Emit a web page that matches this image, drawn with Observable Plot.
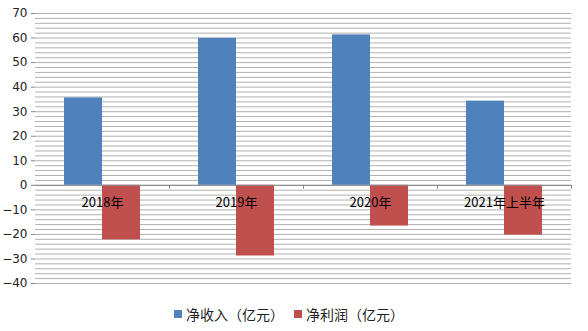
<!DOCTYPE html>
<html>
<head>
<meta charset="utf-8">
<script src="https://cdn.jsdelivr.net/npm/d3@7"></script>
<script src="https://cdn.jsdelivr.net/npm/@observablehq/plot@0.6"></script>
<style>
  html, body { margin: 0; padding: 0; background: #fff; }
  #chart { width: 588px; }
  .legend { display: flex; justify-content: center; align-items: center; height: 35px; font-family: "Noto Sans CJK SC", sans-serif; font-size: 14px; color: #222; padding-right: 10px; box-sizing: border-box; }
  .legend .item { display: flex; align-items: center; margin: 0 5px; }
  .legend .sw { width: 8px; height: 8px; margin-right: 4px; }
</style>
</head>
<body>
<div id="chart"></div>
<script>
const categories = ["2018年", "2019年", "2020年", "2021年上半年"];
const seriesNames = ["净收入（亿元）", "净利润（亿元）"];
const revenue = [35.6, 59.9, 61.3, 34.3];
const profit = [-22.2, -28.8, -16.6, -20.3];
const yTicks = [-40, -30, -20, -10, 0, 10, 20, 30, 40, 50, 60, 70];
const gridTicks = d3.range(-40, 71, 2);
const colors = ["#4F81BD", "#C0504D"];

const rows = [];
categories.forEach((c, i) => {
  rows.push({cat: c, series: seriesNames[0], value: revenue[i]});
  rows.push({cat: c, series: seriesNames[1], value: profit[i]});
});

const chart = Plot.plot({
  width: 588,
  height: 296,
  marginTop: 13,
  marginBottom: 13,
  marginLeft: 35,
  marginRight: 17,
  style: {fontFamily: "'DejaVu Sans', sans-serif", fontSize: "12px", color: "#222", background: "#fff"},
  fx: {domain: categories, padding: 0, axis: null},
  x: {domain: seriesNames, paddingInner: 0, paddingOuter: 0.763, axis: null},
  y: {domain: [-40, 70], axis: null},
  color: {domain: seriesNames, range: colors},
  marks: [
    Plot.gridY(gridTicks, {stroke: "#b0b0b0", strokeOpacity: 1}),
    Plot.barY(rows, {fx: "cat", x: "series", y: "value", fill: "series"}),
    Plot.ruleY([0], {stroke: "#868686"}),
    Plot.ruleX(categories, {fx: d => d, x: () => seriesNames[1], y1: 0, y2: -1.6, dx: 48, stroke: "#868686"}),
    Plot.axisY(yTicks, {tickSize: 4, tickPadding: 4, stroke: "#868686", fill: "#222", fontSize: 12, label: null, line: true}),
    Plot.text(categories, {fx: d => d, text: d => d, y: () => 0, dy: 18, fontSize: 13, fill: "#000", fontFamily: "'Noto Sans CJK SC', sans-serif"})
  ]
});
document.getElementById("chart").appendChild(chart);

const legend = document.createElement("div");
legend.className = "legend";
seriesNames.forEach((s, i) => {
  const item = document.createElement("div");
  item.className = "item";
  const sw = document.createElement("span");
  sw.className = "sw";
  sw.style.background = colors[i];
  const t = document.createElement("span");
  t.textContent = s;
  item.appendChild(sw);
  item.appendChild(t);
  legend.appendChild(item);
});
document.getElementById("chart").appendChild(legend);
</script>
</body>
</html>
